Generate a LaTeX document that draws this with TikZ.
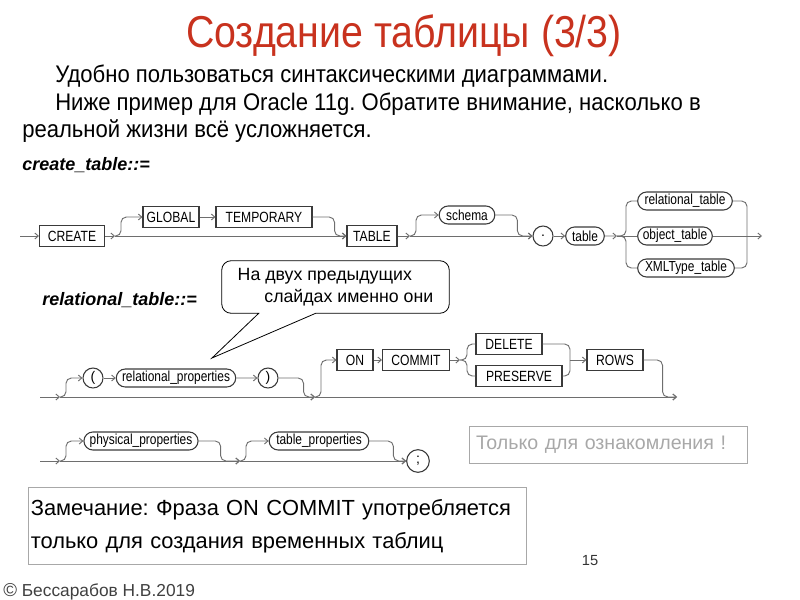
\documentclass[tikz,border=0pt]{standalone}
\usepackage{fontspec}
\setmainfont{Liberation Sans}
\newfontfamily\narrowfont[FakeStretch=0.82]{Liberation Sans}
\newfontfamily\titlefont[FakeStretch=0.88]{Liberation Sans}
\newfontfamily\bodyfont[FakeStretch=0.92]{Liberation Sans}
\usetikzlibrary{arrows.meta,positioning,shapes.misc,calc}
\definecolor{ttlred}{HTML}{C8321E}
\definecolor{railgray}{HTML}{6E6E6E}
\definecolor{boxgray}{HTML}{3A3A3A}
\definecolor{notegray}{HTML}{A8A8A8}
\frenchspacing

\begin{document}
\begin{tikzpicture}[x=0.75pt,y=-0.75pt,
  kw/.style={draw=boxgray,line width=0.8pt,font=\narrowfont\fontsize{11.1}{13}\selectfont,
    minimum height=15.75pt,inner xsep=2pt,inner ysep=0pt},
  nt/.style={rounded rectangle,draw=boxgray,line width=0.8pt,font=\narrowfont\fontsize{10.9}{13}\selectfont,
    minimum height=13.5pt,inner xsep=2pt,inner ysep=0pt},
  sym/.style={circle,draw=boxgray,line width=0.8pt,font=\fontsize{10.5}{12}\selectfont,
    minimum size=15pt,inner sep=0pt},
  wd/.style={minimum width=#1*0.75pt},
  rail/.style={draw=railgray,line width=0.7pt,rounded corners=4pt,
    -{Straight Barb[length=2.6pt,width=4.5pt]}},
  link/.style={draw=railgray,line width=0.7pt,rounded corners=4pt},
  lbl/.style={anchor=base west,font=\bfseries\itshape\fontsize{13.5}{16}\selectfont,inner sep=0pt},
  body/.style={anchor=base west,font=\bodyfont\fontsize{18}{20}\selectfont,inner sep=0pt}]
  \useasboundingbox (0,0) rectangle (800,600);
  \clip (0,0) rectangle (800,600);

  % heading and text
  \node[font=\titlefont\fontsize{33.5}{40}\selectfont,text=ttlred,anchor=base] (ttl) at (404,47) {Создание таблицы (3/3)};
  \node[body] (l1) at (55,82)  {Удобно пользоваться синтаксическими диаграммами.};
  \node[body] (l2) at (55,110) {Ниже пример для Oracle 11g. Обратите внимание, насколько в};
  \node[body] (l3) at (22,137) {реальной жизни всё усложняется.};

  % create_table
  \node[lbl] (lbla) at (22,170) {create\_table::=};
  \coordinate (s1) at (20,236);
  \coordinate (j1) at (115,236);
  \coordinate (j2) at (410,236);
  \coordinate (j3) at (617,236);
  \coordinate (k3) at (747,236);
  \coordinate (e1) at (762,236);
  \node[kw,wd=65] (create) at (72,236)  {CREATE};
  \node[kw,wd=56] (glob)   at (171,217) {GLOBAL};
  \node[kw,wd=96] (temp)   at (264,217) {TEMPORARY};
  \node[kw,wd=50] (tbl)    at (372,236) {TABLE};
  \node[nt,wd=61] (schema) at (467,215) {schema};
  \node[sym]      (dot)    at (543,236) {.};
  \node[nt,wd=44] (tname)  at (585,236) {table};
  \node[nt,wd=100] (reltab) at (685,201) {relational\_table};
  \node[nt,wd=80] (objtab) at (675,236) {object\_table};
  \node[nt,wd=102] (xmltab) at (686,268) {XMLType\_table};
  \draw[rail] (s1) -- (create);
  \draw[rail] (create) -- (j1);
  \draw[rail] (j1) -- (tbl);
  \draw[rail] (j1) -- ++(6,0) |- (glob.west);
  \draw[rail] (glob) -- (temp);
  \draw[rail] (temp.east) -- ++(22,0) |- (tbl.west);
  \draw[rail] (tbl) -- (j2);
  \draw[rail] (j2) -- (dot);
  \draw[rail] (j2) -- ++(6,0) |- (schema.west);
  \draw[rail] (schema.east) -- ++(22,0) |- (dot.west);
  \draw[rail] (dot) -- (tname);
  \draw[rail] (tname) -- (j3);
  \draw[link] (j3) -- (objtab);
  \draw[link] (j3) -- ++(9,0) |- (reltab.west);
  \draw[link] (j3) -- ++(9,0) |- (xmltab.west);
  \draw[link] (reltab.east) -| (k3);
  \draw[link] (objtab.east) -- (k3);
  \draw[link] (xmltab.east) -| (k3);
  \draw[rail] (k3) -- (e1);

  % relational_table
  \node[lbl] (lblb) at (42,305) {relational\_table::=};
  \coordinate (s2) at (40,397);
  \coordinate (j4) at (60,397);
  \coordinate (j5) at (315,397);
  \coordinate (j6) at (460,360);
  \coordinate (k6) at (570,360);
  \coordinate (e2) at (677,397);
  \node[sym]       (lp)      at (93,378)  {(};
  \node[nt,wd=117] (relprop) at (176,378) {relational\_properties};
  \node[sym]       (rp)      at (268,378) {)};
  \node[kw,wd=36]  (on)      at (355,360) {ON};
  \node[kw,wd=67]  (commit)  at (416,360) {COMMIT};
  \node[kw,wd=66]  (del)     at (509,344) {DELETE};
  \node[kw,wd=86]  (pres)    at (519,376) {PRESERVE};
  \node[kw,wd=56]  (rows)    at (615,360) {ROWS};
  \draw[rail] (s2) -- (j4);
  \draw[rail] (j4) -- (j5);
  \draw[rail] (j4) -- ++(6,0) |- (lp.west);
  \draw[rail] (lp) -- (relprop);
  \draw[rail] (relprop) -- (rp);
  \draw[rail] (rp.east) -- ++(25,0) |- (j5);
  \draw[rail] (j5) -- (e2);
  \draw[rail] (j5) -- ++(6,0) |- (on.west);
  \draw[rail] (on) -- (commit);
  \draw[rail] (commit) -- (j6);
  \draw[link] (j6) -- ++(7,0) |- (del.west);
  \draw[link] (j6) -- ++(7,0) |- (pres.west);
  \draw[link] (del.east) -| (k6);
  \draw[link] (pres.east) -| (k6);
  \draw[rail] (k6) -- (rows);
  \draw[rail] (rows.east) -- ++(19,0) |- (e2);

  % properties
  \coordinate (s3) at (40,461);
  \coordinate (j7) at (60,461);
  \coordinate (j8) at (240,461);
  \node[nt,wd=113] (physprop) at (141,441) {physical\_properties};
  \node[nt,wd=105] (tabprop)  at (319,441) {table\_properties};
  \node[sym,minimum size=17pt] (semi) at (418,461) {;};
  \draw[rail] (s3) -- (j7);
  \draw[rail] (j7) -- (j8);
  \draw[rail] (j7) -- ++(6,0) |- (physprop.west);
  \draw[rail] (physprop.east) -- ++(22,0) |- (j8);
  \draw[rail] (j8) -- (semi);
  \draw[rail] (j8) -- ++(6,0) |- (tabprop.west);
  \draw[rail] (tabprop.east) -- ++(24,0) |- (semi.west);

  % callout
  \node[minimum width=170.25pt,minimum height=39pt,align=left,inner sep=0pt,
    font=\fontsize{13.3}{17}\selectfont] (note) at (335.5,287)
    {На двух предыдущих\\\hspace*{20pt}слайдах именно они};
  \coordinate (tip) at (212,358);
  \draw[line width=0.6pt] (tip) -- ($(note.south west)+(37,0)$) [rounded corners=7pt]
    -- (note.south west) -- (note.north west) -- (note.north east) -- (note.south east)
    [sharp corners] -- ($(note.south west)+(94,0)$) -- cycle;

  % side notes
  \node[draw=notegray,line width=0.7pt,text=notegray,font=\fontsize{14.7}{17}\selectfont,
    minimum width=208.5pt,minimum height=27.75pt,text width=198pt,align=left,inner xsep=5pt]
    (only) at (608,444.5) {Только для ознакомления !};
  \node[draw=notegray,line width=0.7pt,font=\fontsize{16.4}{24.75}\selectfont,
    minimum width=374pt,minimum height=57.75pt,text width=370pt,align=left,inner xsep=2pt]
    (rem) at (277.5,526) {Замечание: Фраза ON COMMIT употребляется\\только для создания временных таблиц};
  \node[font=\fontsize{11}{13}\selectfont,text=black!80] (pg) at (590,561) {15};
  \node[anchor=base west,inner sep=0pt,text=black!75,font=\fontsize{13}{15}\selectfont] (copy) at (3,596)
    {{\fontsize{14}{14}\selectfont ©}\ Бессарабов Н.В.2019};
\end{tikzpicture}
\end{document}
